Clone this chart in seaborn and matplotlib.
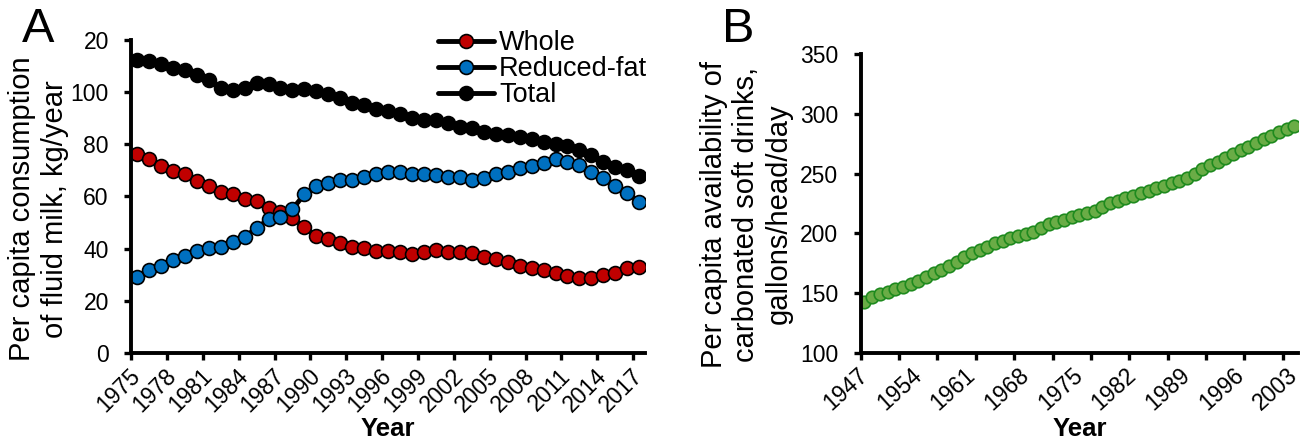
import matplotlib
matplotlib.use("Agg")
import matplotlib.pyplot as plt
import seaborn as sns

# Panel A: per capita fluid milk consumption (kg/year)
years_a = list(range(1975, 2018))
whole = [76.2, 74.2, 71.6, 69.8, 68.5, 66.0, 64.1, 61.8, 60.9, 59.2, 58.3, 55.7, 54.1, 51.6, 48.2,
         44.8, 43.6, 42.3, 40.8, 40.1, 39.2, 39.2, 38.6, 37.8, 38.6, 39.5, 38.6, 38.6, 38.2, 36.9,
         35.9, 34.7, 33.4, 32.4, 31.8, 30.5, 29.5, 28.9, 28.9, 29.9, 30.8, 32.4, 33.1]
reduced_fat = [29.3, 31.8, 33.5, 35.7, 37.2, 39.2, 40.4, 40.8, 42.7, 44.6, 47.8, 51.3, 52.0, 55.2, 60.8,
               63.9, 65.2, 66.5, 66.5, 67.6, 68.6, 69.5, 69.5, 68.8, 68.8, 68.2, 67.6, 67.6, 66.5, 66.9,
               68.8, 69.5, 70.8, 71.6, 72.7, 74.2, 73.3, 72.0, 69.5, 66.9, 64.1, 61.2, 58.0]
total = [112.4, 111.8, 110.6, 109.3, 108.3, 106.4, 104.5, 101.5, 101.0, 101.7, 103.4, 103.0, 101.5, 101.0,
         101.2, 100.4, 99.4, 97.8, 95.8, 95.0, 93.4, 92.8, 91.6, 89.9, 89.3, 89.3, 88.0, 86.7, 86.1,
         84.8, 83.9, 83.5, 82.9, 81.9, 81.0, 80.3, 79.3, 77.8, 75.9, 73.3, 71.4, 70.1, 67.8]
labels_a = [str(y) for y in range(1975, 2018, 3)]
# the top label is clipped to "20" in the original figure
ylabels_a = ["0", "20", "40", "60", "80", "100", "20"]

# Panel B: per capita availability of carbonated soft drinks
years_b = list(range(1947, 2004))
soft_drinks = [142.7, 146.9, 149.1, 151.0, 153.0, 155.2, 157.5, 160.3, 163.1, 166.4, 169.2, 172.6,
               176.2, 179.8, 183.2, 185.9, 188.7, 191.5, 193.7, 195.7, 197.7, 199.3, 201.3, 204.1,
               207.7, 209.6, 211.3, 213.2, 215.0, 217.0, 219.0, 222.2, 225.0, 227.2, 229.2, 231.1,
               233.4, 235.6, 237.5, 239.5, 241.8, 244.0, 245.9, 249.5, 253.4, 257.1, 259.8, 263.2,
               266.3, 269.6, 272.4, 275.2, 278.6, 281.3, 284.9, 286.9, 289.7]
labels_b = [str(y) for y in range(1947, 2004, 7)]

sns.set_style("ticks")
plt.rcParams["font.family"] = ["Liberation Sans", "DejaVu Sans"]
for key in ("text.color", "axes.labelcolor", "xtick.color", "ytick.color", "axes.edgecolor"):
    plt.rcParams[key] = "black"

fig = plt.figure(figsize=(13.05, 4.44), dpi=100)
ax1 = fig.add_axes([0.1004, 0.205, 0.394, 0.705])
ax2 = fig.add_axes([0.6595, 0.2056, 0.3353, 0.6727])

series = [("Whole", whole, "#C00000"),
          ("Reduced-fat", reduced_fat, "#0070C0"),
          ("Total", total, "black")]
for name, vals, col in series:
    sns.lineplot(x=years_a, y=vals, ax=ax1, color="black", lw=3.5, marker="o",
                 markersize=10, markerfacecolor=col, markeredgecolor="black",
                 markeredgewidth=1.2, label=name)

ax1.set_xlim(1974.5, 2017.5)
ax1.set_ylim(0, 120)
ax1.set_yticks(range(0, 121, 20), ylabels_a)
ax1.set_xticks([y - 0.5 for y in range(1975, 2018, 3)], [""] * len(labels_a))
ax1.set_xticks(list(range(1975, 2018, 3)), labels_a, minor=True)
plt.setp(ax1.get_xticklabels(minor=True), rotation=45, ha="right", va="center",
         rotation_mode="anchor")
ax1.set_ylabel("Per capita consumption\nof fluid milk, kg/year", fontsize=21)
ax1.yaxis.set_label_coords(-0.121, 0.46)
ax1.set_xlabel("Year", fontsize=18.5, fontweight="bold")
ax1.xaxis.set_label_coords(0.5, -0.205)
leg = ax1.legend(loc="upper right", bbox_to_anchor=(1.025, 1.065), frameon=False, fontsize=19.5,
                 handlelength=2.05, handletextpad=0.2, labelspacing=0.0, borderaxespad=0)

sns.lineplot(x=years_b, y=soft_drinks, ax=ax2, color="#2E8B22", lw=0, marker="o",
             markersize=9, markerfacecolor="#6AAC46", markeredgecolor="#1E8A1E",
             markeredgewidth=1.2)
ax2.set_xlim(1946.5, 2003.5)
ax2.set_ylim(100, 350)
ax2.set_yticks(range(100, 351, 50))
ax2.set_xticks([1946.5 + 5 * k for k in range(12)], [""] * 12)
ax2.set_xticks(list(range(1947, 2004, 7)), labels_b, minor=True)
plt.setp(ax2.get_xticklabels(minor=True), rotation=42, ha="right", va="center",
         rotation_mode="anchor")
ax2.set_ylabel("Per capita availability of\ncarbonated soft drinks,\ngallons/head/day", fontsize=21)
ax2.yaxis.set_label_coords(-0.155, 0.464)
ax2.set_xlabel("Year", fontsize=18.5, fontweight="bold")
ax2.xaxis.set_label_coords(0.5, -0.215)

for ax in (ax1, ax2):
    sns.despine(ax=ax)
    for s in ("left", "bottom"):
        ax.spines[s].set_linewidth(2.8)
    ax.tick_params(axis="both", which="major", width=2.4, length=5, labelsize=16.5,
                   direction="out", pad=11)
    ax.tick_params(axis="x", which="minor", length=0, labelsize=16.5, pad=14)

fig.text(0.0165, 0.985, "A", fontsize=35, va="top")
fig.text(0.553, 0.985, "B", fontsize=35, va="top")

fig.savefig("out.png", dpi=100)
